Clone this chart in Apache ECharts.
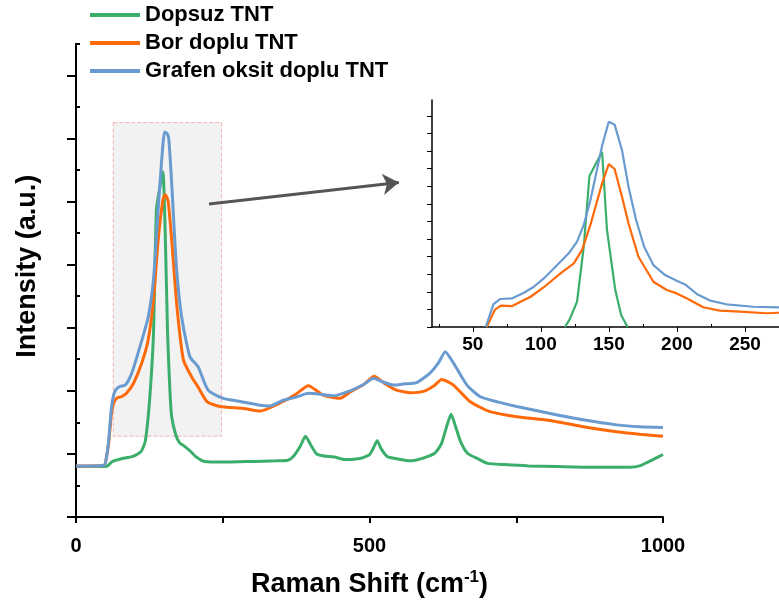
<!DOCTYPE html>
<html>
<head>
<meta charset="utf-8">
<script src="https://cdn.jsdelivr.net/npm/echarts@6/dist/echarts.min.js"></script>
<style>html,body{margin:0;padding:0;background:#fff}#c{width:779px;height:615px}</style>
</head>
<body>
<div id="c"></div>
<script>
// ---- Series names
const seriesNames = ['Dopsuz TNT', 'Bor doplu TNT', 'Grafen oksit doplu TNT'];

// ---- Main chart data (Raman shift, intensity a.u.)
const dopsuzX = [0, 20, 40, 50, 55, 62, 76, 97, 111, 118, 123, 128, 132, 137, 143, 148, 152, 156, 160, 163, 170, 177, 185, 194, 205, 219, 250, 300, 340, 361, 372, 382, 391, 400, 410, 420, 440, 458, 486, 500, 507, 513, 520, 530, 542, 569, 590, 611, 622, 632, 639, 646, 655, 667, 685, 701, 730, 771, 820, 875, 944, 960, 972, 985, 1000];
const dopsuzY = [0.80, 0.80, 0.80, 0.80, 0.82, 0.88, 0.92, 0.96, 1.04, 1.20, 1.59, 2.20, 2.91, 4.87, 5.23, 5.47, 4.50, 2.91, 2.00, 1.59, 1.30, 1.17, 1.12, 1.05, 0.95, 0.88, 0.87, 0.88, 0.89, 0.90, 0.98, 1.12, 1.28, 1.14, 1.00, 0.97, 0.95, 0.91, 0.93, 0.99, 1.10, 1.21, 1.08, 0.96, 0.93, 0.89, 0.93, 1.01, 1.15, 1.45, 1.63, 1.45, 1.20, 1.01, 0.92, 0.85, 0.83, 0.81, 0.80, 0.79, 0.79, 0.81, 0.86, 0.92, 0.99];

const borX = [0, 25, 48, 52, 56, 60, 64, 69, 78, 86, 98, 112, 123, 132, 140, 148, 152, 157, 163, 172, 183, 197, 208, 223, 245, 285, 314, 353, 375, 396, 421, 450, 467, 490, 508, 525, 546, 570, 592, 610, 623, 643, 671, 705, 751, 808, 864, 921, 960, 1000];
const borY = [0.81, 0.81, 0.82, 0.95, 1.20, 1.60, 1.80, 1.88, 1.91, 1.96, 2.12, 2.44, 2.81, 3.44, 4.39, 5.02, 5.11, 5.00, 4.39, 3.33, 2.49, 2.22, 2.06, 1.83, 1.75, 1.72, 1.68, 1.83, 1.95, 2.08, 1.93, 1.88, 1.98, 2.10, 2.23, 2.12, 2.01, 1.97, 1.99, 2.08, 2.18, 2.09, 1.83, 1.67, 1.59, 1.53, 1.43, 1.35, 1.31, 1.28];

const grafenX = [0, 25, 48, 52, 56, 60, 64, 68, 75, 84, 95, 109, 123, 132, 140, 146, 151, 155, 158, 163, 171, 180, 194, 208, 225, 251, 280, 314, 330, 353, 375, 396, 420, 438, 467, 490, 507, 520, 541, 560, 580, 603, 618, 629, 643, 666, 688, 720, 751, 808, 864, 921, 960, 1000];
const grafenY = [0.81, 0.81, 0.82, 0.95, 1.25, 1.70, 1.93, 2.02, 2.07, 2.09, 2.28, 2.70, 3.17, 3.76, 4.87, 5.66, 6.10, 6.08, 6.00, 5.29, 3.97, 3.17, 2.54, 2.38, 2.01, 1.88, 1.83, 1.77, 1.76, 1.85, 1.90, 1.96, 1.94, 1.92, 2.00, 2.10, 2.20, 2.15, 2.09, 2.11, 2.13, 2.28, 2.45, 2.62, 2.44, 2.09, 1.91, 1.82, 1.75, 1.64, 1.54, 1.46, 1.43, 1.42];

// ---- Inset data (zoomed region, own intensity units)
const insetDopsuzX = [117.6, 121, 126.6, 131.5, 135.7, 145, 148.6, 154.7, 159, 163.7];
const insetDopsuzY = [0, 0.4, 1.44, 4.56, 8.58, 9.96, 5.5, 2.1, 0.68, 0];
const insetBorX = [60.2, 66.1, 70.5, 79, 85.1, 92.5, 102.2, 114.4, 124.2, 130.3, 136.4, 145, 149.9, 154.2, 159.6, 164.4, 171.7, 182.7, 192.5, 199.8, 207.1, 219.3, 231.5, 246.2, 265.7, 275];
const insetBorY = [0, 0.97, 1.21, 1.19, 1.44, 1.72, 2.26, 3.05, 3.62, 4.38, 5.8, 8.16, 9.26, 8.98, 7.4, 5.89, 3.99, 2.57, 2.1, 1.91, 1.63, 1.12, 0.93, 0.87, 0.78, 0.81];
const insetGrafenX = [59.5, 65.1, 69.9, 79, 87.6, 94.9, 102.2, 112, 120.5, 126.6, 131.5, 136.4, 145, 149.9, 154.2, 159.6, 164.4, 170, 175.9, 182.7, 191.3, 199.8, 206, 214.5, 224.3, 236.4, 256, 275];
const insetGrafenY = [0, 1.29, 1.59, 1.63, 1.95, 2.29, 2.76, 3.52, 4.19, 4.85, 5.8, 7.2, 10.3, 11.66, 11.5, 10.06, 7.97, 6.08, 4.56, 3.52, 2.95, 2.63, 2.42, 1.88, 1.5, 1.29, 1.15, 1.12];

// ---- Ticks
const mainXTicks = [0, 500, 1000];
const mainYMajor = [0, 1, 2, 3, 4, 5, 6, 7];
const mainYMinor = [0.5, 1.5, 2.5, 3.5, 4.5, 5.5, 6.5, 7.5];
const insetXMajor = [50, 100, 150, 200, 250];
const insetXMinor = [25, 75, 125, 175, 225, 275];
const insetYMajor = [0, 1, 2, 3, 4, 5, 6, 7, 8, 9, 10, 11, 12];
const insetYMinor = [0.5, 1.5, 2.5, 3.5, 4.5, 5.5, 6.5, 7.5, 8.5, 9.5, 10.5, 11.5, 12.5];

// ---- Zoom box and arrow annotation (data coordinates)
const zoomBox = [[63.5, 6.25], [248, 1.28]];
const arrowLine = [[226.6, 4.96], [550, 5.30]];

const colors = ['#3cae6c', '#fe6a0a', '#6a9bd0'];
const FONT = '"Liberation Sans", Arial, sans-serif';
const zip = (xs, ys) => xs.map((x, i) => [x, ys[i]]);

const chart = echarts.init(document.getElementById('c'), null, {renderer: 'canvas'});

const mainSets = [zip(dopsuzX, dopsuzY), zip(borX, borY), zip(grafenX, grafenY)];
const insetSets = [zip(insetDopsuzX, insetDopsuzY), zip(insetBorX, insetBorY), zip(insetGrafenX, insetGrafenY)];

const series = [{
  type: 'line', xAxisIndex: 0, yAxisIndex: 0, data: [], z: 1, silent: true,
  markArea: {
    silent: true, z: 1,
    itemStyle: {color: '#f2f2f2', borderColor: '#f4b3b3', borderWidth: 1, borderType: 'dashed'},
    data: [[{coord: zoomBox[0]}, {coord: zoomBox[1]}]]
  },
  markLine: {
    silent: true, z: 2, symbol: ['none', 'arrow'], symbolSize: 16,
    label: {show: false},
    lineStyle: {color: '#555555', width: 3, type: 'solid'},
    data: [[{coord: arrowLine[0]}, {coord: arrowLine[1]}]]
  }
}];
for (let i = 0; i < 3; i++) {
  series.push({
    name: seriesNames[i], type: 'line', xAxisIndex: 0, yAxisIndex: 0, z: 3,
    data: mainSets[i], showSymbol: false, symbol: 'none',
    smooth: 0.2,
    lineStyle: {color: colors[i], width: 3}, itemStyle: {color: colors[i]}
  });
}
for (let i = 0; i < 3; i++) {
  series.push({
    name: seriesNames[i], type: 'line', xAxisIndex: 1, yAxisIndex: 2, z: 3,
    data: insetSets[i], showSymbol: false, symbol: 'none', clip: true,
    lineStyle: {color: colors[i], width: 2.2}, itemStyle: {color: colors[i]}
  });
}

const blackLine = (w) => ({show: true, onZero: false, lineStyle: {color: '#000', width: w}});

chart.setOption({
  animation: false,
  backgroundColor: '#fff',
  textStyle: {fontFamily: FONT},
  legend: {
    data: seriesNames, orient: 'vertical', left: 85, top: -1,
    icon: 'rect', itemWidth: 50, itemHeight: 4, itemGap: 6,
    textStyle: {fontFamily: FONT, fontWeight: 'bold', fontSize: 22, color: '#000'},
    selectedMode: false
  },
  grid: [
    {left: 76, top: 43.7, width: 587, height: 473.3},
    {left: 432, top: 100, width: 348, height: 227}
  ],
  xAxis: [
    {
      gridIndex: 0, type: 'value', min: 0, max: 1000, interval: 500,
      axisLine: blackLine(2),
      axisTick: {show: true, length: 6, lineStyle: {color: '#000', width: 2}},
      minorTick: {show: true, splitNumber: 2, length: 6, lineStyle: {color: '#000', width: 2}},
      splitLine: {show: false}, minorSplitLine: {show: false},
      axisLabel: {fontFamily: FONT, fontWeight: 'bold', fontSize: 20, color: '#000', margin: 19,
        customValues: mainXTicks, formatter: (v) => String(v)},
      name: '{a|Raman Shift (cm}{s|-1}{a|)}', nameLocation: 'middle', nameGap: 52,
      nameTextStyle: {
        rich: {
          a: {fontFamily: FONT, fontWeight: 'bold', fontSize: 27, color: '#000'},
          s: {fontFamily: FONT, fontWeight: 'bold', fontSize: 17, color: '#000', verticalAlign: 'top', padding: [0, 0, 14, 0]}
        }
      }
    },
    {
      gridIndex: 1, type: 'value', min: 20, max: 275,
      axisLine: blackLine(1.5),
      axisTick: {show: true, length: 5, customValues: insetXMajor, lineStyle: {color: '#000', width: 1}},
      splitLine: {show: false},
      axisLabel: {fontFamily: FONT, fontWeight: 'bold', fontSize: 19, color: '#000', margin: 8,
        customValues: insetXMajor}
    },
    {
      gridIndex: 1, type: 'value', min: 20, max: 275,
      axisLine: {show: false},
      axisTick: {show: true, length: 3, customValues: insetXMinor, lineStyle: {color: '#000', width: 1}},
      splitLine: {show: false}, axisLabel: {show: false}
    }
  ],
  yAxis: [
    {
      gridIndex: 0, type: 'value', min: 0, max: 7.5,
      axisLine: blackLine(2),
      axisTick: {show: true, length: 9, customValues: mainYMajor, lineStyle: {color: '#000', width: 2}},
      splitLine: {show: false}, axisLabel: {show: false},
      name: 'Intensity (a.u.)', nameLocation: 'middle', nameGap: 35, nameRotate: 90,
      nameTextStyle: {fontFamily: FONT, fontWeight: 'bold', fontSize: 27, color: '#000', padding: [0, 0, 0, 28]}
    },
    {
      gridIndex: 0, type: 'value', min: 0, max: 7.5,
      axisLine: {show: false},
      axisTick: {show: true, length: 4, customValues: mainYMinor, lineStyle: {color: '#000', width: 2}},
      splitLine: {show: false}, axisLabel: {show: false}
    },
    {
      gridIndex: 1, type: 'value', min: 0, max: 12.9,
      axisLine: blackLine(1.5),
      axisTick: {show: true, length: 5, customValues: insetYMajor, lineStyle: {color: '#000', width: 1}},
      splitLine: {show: false}, axisLabel: {show: false}
    },
    {
      gridIndex: 1, type: 'value', min: 0, max: 12.9,
      axisLine: {show: false},
      axisTick: {show: true, length: 3, customValues: insetYMinor, lineStyle: {color: '#000', width: 1}},
      splitLine: {show: false}, axisLabel: {show: false}
    }
  ],
  series: series
});
</script>
</body>
</html>
